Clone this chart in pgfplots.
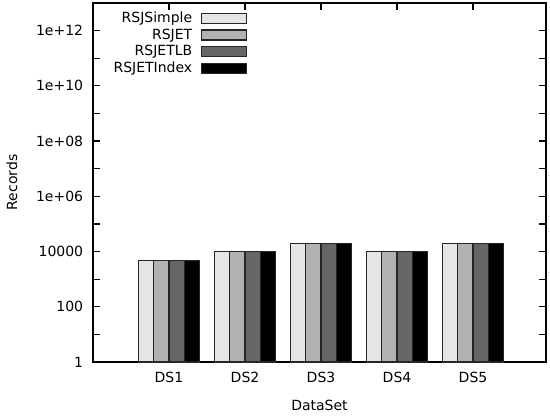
\documentclass[border=0pt]{standalone}
\usepackage{pgfplots}
\pgfplotsset{compat=1.18}
\usepackage{fontspec}
\setmainfont{DejaVu Sans}
\newcommand{\gf}{\fontsize{14bp}{17bp}\selectfont}
\begin{document}
\gf
\begin{tikzpicture}
\begin{axis}[
  name=ax,
  scale only axis,
  width=453bp, height=359bp,
  ymode=log,
  ymin=1, ymax=1e13,
  xmin=0, xmax=5.96,
  ybar=0pt,
  bar width=0.2,
  xtick={1,2,3,4,5},
  xticklabels={DS1,DS2,DS3,DS4,DS5},
  ytick={1,100,10000,1e6,1e8,1e10,1e12},
  yticklabels={1,100,10000,1e+06,1e+08,1e+10,1e+12},
  minor ytick={10,1000,1e5,1e7,1e9,1e11},
  tick align=inside,
  major tick length=7bp,
  minor tick length=7bp,
  tick style={line width=1.2bp, black},
  axis line style={line width=1.5bp},
  tick label style={font=\gf},
  label style={font=\gf},
  xticklabel style={yshift=-5bp},
  yticklabel style={xshift=-5bp},
  xlabel={DataSet},
  ylabel={Records},
  xlabel style={at={(axis description cs:0.5,-0.1198)}, anchor=center},
  ylabel style={at={(axis description cs:-0.1788,0.5)}, anchor=center},
  legend style={draw=none, fill=none, at={(axis description cs:0.035,0.985)}, anchor=north west,
     legend cell align=right, row sep=1bp, column sep=7bp, font=\gf, nodes={inner sep=1.5bp}},
  legend plot pos=right,
  every axis plot/.append style={draw=black!85, line width=1.2bp,
     legend image code/.code={\draw[##1] (0bp,-5bp) rectangle (45bp,5bp);}},
]
\addplot[fill=black!10] coordinates {(1,4600) (2,10000) (3,20000) (4,10000) (5,20000)};
\addplot[fill=black!30] coordinates {(1,4600) (2,10000) (3,20000) (4,10000) (5,20000)};
\addplot[fill=black!60] coordinates {(1,4600) (2,10000) (3,20000) (4,10000) (5,20000)};
\addplot[fill=black] coordinates {(1,4600) (2,10000) (3,20000) (4,10000) (5,20000)};
\legend{RSJSimple,RSJET,RSJETLB,RSJETIndex}
\end{axis}
\pgfresetboundingbox
\path[use as bounding box] ([shift={(-93bp,-55bp)}]ax.south west) rectangle ([shift={(457bp,362bp)}]ax.south west);
\end{tikzpicture}
\end{document}
